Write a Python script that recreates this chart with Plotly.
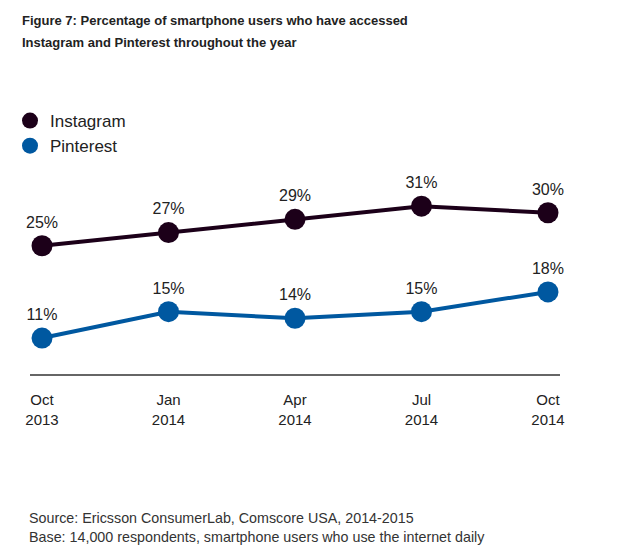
import plotly.graph_objects as go

months = ["Oct<br>2013", "Jan<br>2014", "Apr<br>2014", "Jul<br>2014", "Oct<br>2014"]
instagram = [25, 27, 29, 31, 30]
pinterest = [11, 15, 14, 15, 18]

series = [("Instagram", instagram, "#1c0019"), ("Pinterest", pinterest, "#0058a0")]

fig = go.Figure()
for name, values, color in series:
    fig.add_trace(go.Scatter(
        x=months, y=values, mode="lines+markers+text", name=name,
        line=dict(color=color, width=4),
        marker=dict(color=color, size=21),
        text=[str(v) + "%" for v in values],
        textposition="top center",
        textfont=dict(size=16, color="#222222"),
        showlegend=False, cliponaxis=False,
    ))
    # legend entry with just the dot
    fig.add_trace(go.Scatter(
        x=[None], y=[None], mode="markers", name=name,
        marker=dict(color=color, size=19),
    ))

# page has an 8px body margin; plot area spans page x 8..560, y 100..375
OFF = 8
LEFT, RIGHT, TOP, BOT = 8, 560, 100, 375
def px(x):
    return (x - LEFT) / (RIGHT - LEFT)
def py(y):
    return (BOT - y) / (BOT - TOP)

title_lines = [
    "Figure 7: Percentage of smartphone users who have accessed",
    "Instagram and Pinterest throughout the year",
]
notes = [
    "Source: Ericsson ConsumerLab, Comscore USA, 2014-2015",
    "Base: 14,000 respondents, smartphone users who use the internet daily",
]

annotations = []
for i, line in enumerate(title_lines):
    annotations.append(dict(
        text="<b>" + line + "</b>", xref="paper", yref="paper",
        x=px(20), y=py(11 + 22 * i), xanchor="left", yanchor="top",
        showarrow=False, font=dict(size=13, color="#222222"),
    ))
annotations.append(dict(
    text="<br>".join(notes), xref="paper", yref="paper", x=px(27), y=py(508),
    xanchor="left", yanchor="top", align="left", showarrow=False,
    font=dict(size=14.3, color="#333333"),
))

fig.update_layout(
    width=620, height=555,
    margin=dict(l=LEFT - OFF, r=620 - (RIGHT - OFF), t=TOP - OFF, b=555 - (BOT - OFF)),
    plot_bgcolor="white", paper_bgcolor="white",
    font=dict(family="Liberation Sans, Arial, sans-serif", color="#222222"),
    legend=dict(
        x=px(10), y=py(103), xanchor="left", yanchor="top",
        font=dict(size=17, color="#222222"),
        tracegroupgap=0, itemwidth=30, bgcolor="rgba(0,0,0,0)",
    ),
    xaxis=dict(
        type="category", range=[-0.269, 4.095],
        showgrid=False, zeroline=False,
        showline=False, ticks="", ticklabelstandoff=14,
        tickfont=dict(size=15, color="#222222"),
    ),
    yaxis=dict(range=[5.4, 47.1], visible=False),
    annotations=annotations,
    shapes=[dict(
        type="line", xref="paper", yref="paper", x0=px(30), x1=1, y0=0, y1=0,
        line=dict(color="#666666", width=2),
    )],
)

fig.write_html("out.html")
